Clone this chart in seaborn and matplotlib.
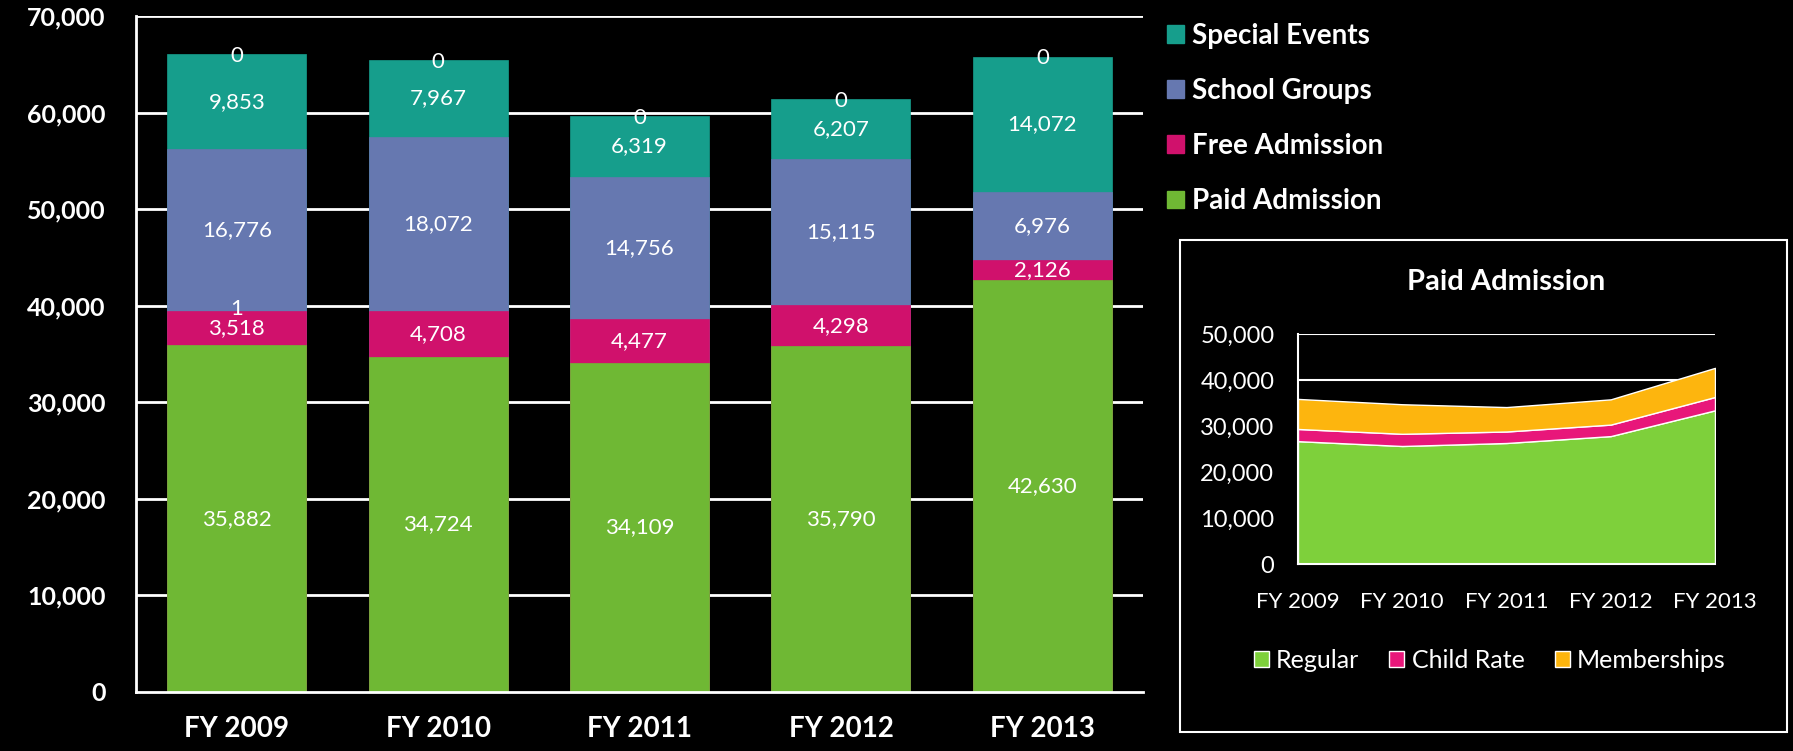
import matplotlib
matplotlib.use("Agg")
import matplotlib.pyplot as plt
import matplotlib.patches as mpatches
import numpy as np
import pandas as pd
import seaborn as sns

years = ["FY 2009", "FY 2010", "FY 2011", "FY 2012", "FY 2013"]
paid_admission = [35882, 34724, 34109, 35790, 42630]
free_admission = [3518, 4708, 4477, 4298, 2126]
school_groups = [16776, 18072, 14756, 15115, 6976]
special_events = [9853, 7967, 6319, 6207, 14072]
# small extra series shown only as labels in the original chart
minor_labels = [1, None, None, None, None]
top_labels = [0, 0, 0, 0, 0]

# inset: paid admission split
regular = [26700, 25650, 26300, 27800, 33400]
child_rate = [2650, 2650, 2500, 2500, 2900]
memberships = [6532, 6424, 5309, 5490, 6330]

series_names = ["Paid Admission", "Free Admission", "School Groups", "Special Events"]
series_vals = [paid_admission, free_admission, school_groups, special_events]
series_colors = ["#6FB834", "#D0116C", "#6678B0", "#169E8C"]
inset_colors = ["#7ED03B", "#E8177A", "#FDB50E"]

sns.set_style("dark")
plt.rcParams["font.family"] = ["Lato", "DejaVu Sans"]
plt.rcParams["text.color"] = "white"

fig = plt.figure(figsize=(17.93, 7.51), dpi=100, facecolor="black")

# ---- main stacked bar chart ----
ax = fig.add_axes([0.0759, 0.0786, 0.5616, 0.9001])
ax.set_facecolor("black")
cum = np.cumsum(np.array(series_vals), axis=0)
df = pd.DataFrame({"year": years})
for i in range(len(series_names) - 1, -1, -1):
    df["cum"] = cum[i]
    sns.barplot(data=df, x="year", y="cum", color=series_colors[i], width=0.69,
                saturation=1, ax=ax, edgecolor=series_colors[i], linewidth=0.5, zorder=2)

for i in range(len(series_names)):
    low = cum[i - 1] if i > 0 else np.zeros(len(years))
    for j in range(len(years)):
        mid = (low[j] + cum[i][j]) / 2
        ax.text(j, mid, f"{series_vals[i][j]:,}", ha="center", va="center",
                fontsize=16, color="white", zorder=5)
for j, v in enumerate(minor_labels):
    if v is not None:
        ax.text(j, cum[1][j] + 300, f"{v}", ha="center", va="center",
                fontsize=16, color="white", zorder=5)
for j, v in enumerate(top_labels):
    ax.text(j, cum[3][j] - 200, f"{v}", ha="center", va="center",
            fontsize=16, color="white", zorder=5)

ax.set_ylim(0, 70000)
ax.set_xlim(-0.5, 4.5)
ax.set_yticks(range(0, 70001, 10000))
ax.set_yticklabels([f"{t:,}" for t in range(0, 70001, 10000)],
                   fontsize=18, fontweight="bold", color="white")
ax.set_xticks(range(len(years)))
ax.set_xticklabels(years, fontsize=20, fontweight="bold", color="white")
ax.tick_params(axis="y", length=0, pad=22)
ax.tick_params(axis="x", length=0, pad=17)
ax.set_xlabel("")
ax.set_ylabel("")
ax.grid(False)
ax.set_axisbelow(True)
for t in range(10000, 70001, 10000):
    ax.axhline(t, color="white", linewidth=2, zorder=0)
for s in ["top", "right"]:
    ax.spines[s].set_visible(False)
for s in ["left", "bottom"]:
    ax.spines[s].set_color("white")
    ax.spines[s].set_linewidth(2)
ax.spines["bottom"].set_zorder(3)

handles = [mpatches.Patch(color=c, label=n) for n, c in zip(series_names, series_colors)][::-1]
fig.legend(handles=handles, loc="upper left", bbox_to_anchor=(0.637, 1.003),
           frameon=False, labelcolor="white", prop={"weight": "bold", "size": 20},
           handlelength=0.6, handleheight=0.6, handletextpad=0.3, labelspacing=1.05)

# ---- inset: paid admission area chart ----
box = mpatches.Rectangle((0.658, 0.0253), 0.3385, 0.655, transform=fig.transFigure,
                         facecolor="black", edgecolor="white", linewidth=1.5, zorder=-1)
fig.patches.append(box)
iax = fig.add_axes([0.7239, 0.249, 0.2326, 0.3063])
iax.set_zorder(2)
iax.set_facecolor("black")
xs = np.arange(len(years))
for t in range(10000, 50001, 10000):
    iax.axhline(t, color="white", linewidth=1.5, zorder=0)
iax.stackplot(xs, regular, child_rate, memberships, colors=inset_colors,
              labels=["Regular", "Child Rate", "Memberships"], zorder=2)
iax.set_xlim(0, 4)
iax.set_ylim(0, 50000)
iax.set_yticks(range(0, 50001, 10000))
iax.set_yticklabels([f"{t:,}" for t in range(0, 50001, 10000)], fontsize=17, color="white")
iax.set_xticks(xs)
iax.set_xticklabels(years, fontsize=16, color="white")
iax.tick_params(axis="y", length=0, pad=17)
iax.tick_params(axis="x", length=0, pad=20)
iax.grid(False)
for s in ["top", "right"]:
    iax.spines[s].set_visible(False)
for s in ["left", "bottom"]:
    iax.spines[s].set_color("white")
    iax.spines[s].set_linewidth(1.5)
    iax.spines[s].set_zorder(3)
iax.set_title("Paid Admission", fontsize=21, fontweight="bold", color="white", pad=32)
iax.legend(loc="upper center", bbox_to_anchor=(0.46, -0.27), ncol=3, frameon=False,
           fontsize=18, labelcolor="white", handlelength=0.6, handleheight=0.6,
           handletextpad=0.3, columnspacing=1.2)

fig.savefig("out.png", dpi=100, facecolor="black")
